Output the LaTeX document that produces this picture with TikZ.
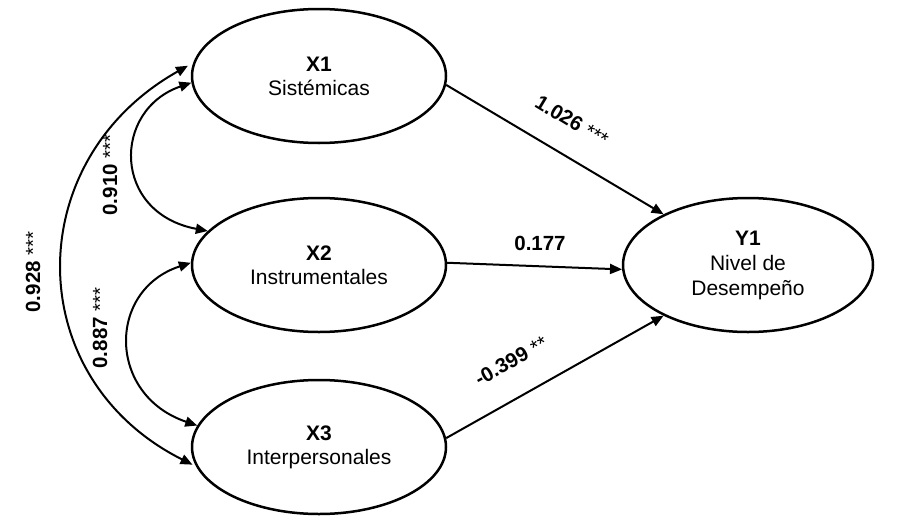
\documentclass[tikz,border=0pt]{standalone}
\usepackage{fontspec}
\setmainfont{Liberation Sans}
\usetikzlibrary{arrows.meta,shapes.geometric}
\begin{document}
\begin{tikzpicture}[x=1pt,y=-1pt,
  lat/.style={ellipse,draw,line width=2.5pt,minimum width=254pt,minimum height=134pt,inner sep=0pt,align=center,font=\fontsize{21}{24}\selectfont},
  pth/.style={line width=2pt,-{Triangle[length=12pt,width=10pt]}},
  cov/.style={line width=2pt,{Triangle[length=12pt,width=10pt]}-{Triangle[length=12pt,width=10pt]}},
  lbl/.style={font=\fontsize{20.5}{24}\selectfont,inner sep=0pt}]
\useasboundingbox (0,0) rectangle (897,530);
\node[lat] (x1) at (319,76) {\textbf{X1}\\Sistémicas};
\node[lat] (x2) at (319,265) {\textbf{X2}\\Instrumentales};
\node[lat] (x3) at (319,447) {\textbf{X3}\\Interpersonales};
\node[lat,minimum width=250pt,font=\fontsize{21}{25}\selectfont] (y1) at (748,265) {\textbf{Y1}\\Nivel de\\Desempeño};
% paths
\draw[pth] (x1.-4) -- (y1.149.5);
\draw[pth] (x2.1) -- (y1.182);
\draw[pth] (x3.4) -- (y1.211.5);
% covariances
\draw[cov] (x1.183) .. controls (112,110) and (112,213) .. (x2.163);
\draw[cov] (x2.179) .. controls (107,290) and (107,395) .. (x3.170);
\draw[cov,shorten <=6pt,shorten >=4pt] (x1.174.5) .. controls (20,160) and (20,378) .. (x3.189);
% labels
\node[lbl,rotate=-31] (l1) at (572,121) {\textbf{1.026} ***};
\node[lbl] (l2) at (540,243) {\textbf{0.177}};
\node[lbl,rotate=29] (l3) at (511,361) {\textbf{-0.399} **};
\node[lbl,rotate=90] (l4) at (110,175) {\textbf{0.910} ***};
\node[lbl,rotate=90] (l5) at (100,328) {\textbf{0.887} ***};
\node[lbl,rotate=90] (l6) at (33,272) {\textbf{0.928} ***};
\end{tikzpicture}
\end{document}
